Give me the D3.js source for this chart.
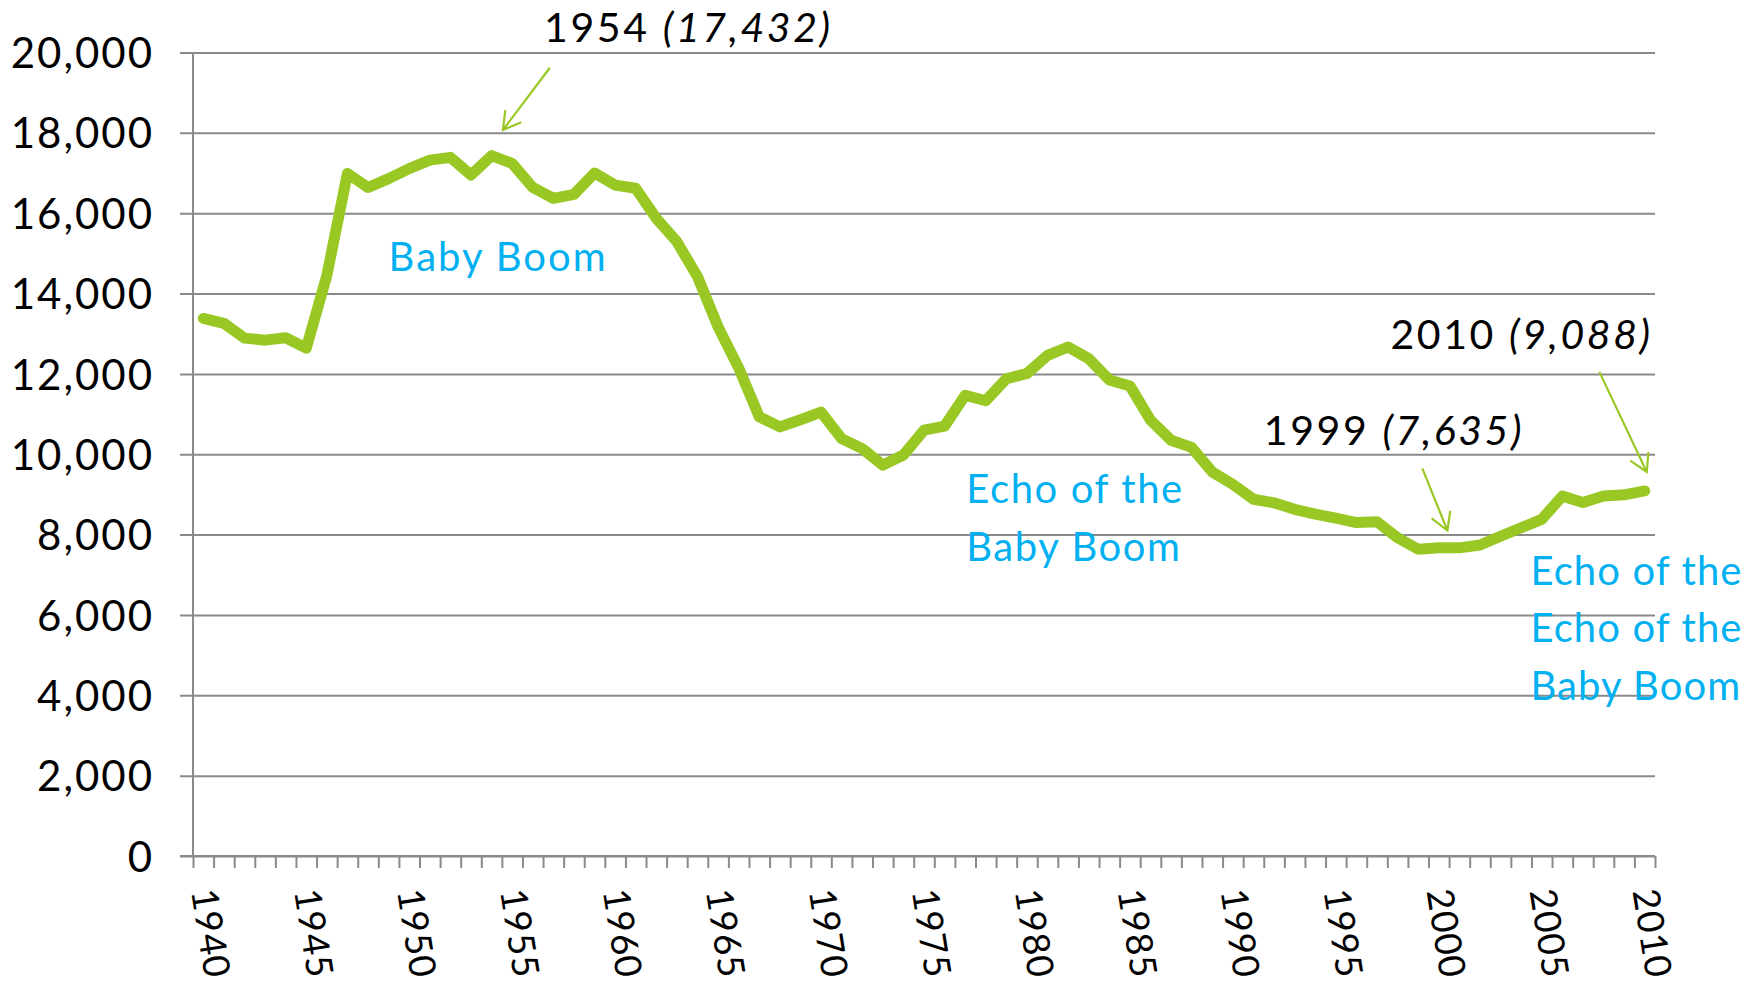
<!DOCTYPE html>
<html>
<head>
<meta charset="utf-8">
<script src="https://cdn.jsdelivr.net/npm/d3@7"></script>
<style>
  html, body { margin: 0; padding: 0; background: #fff; }
  svg { display: block; font-family: Lato, "Open Sans", sans-serif; }
</style>
</head>
<body>
<div id="container"></div>
<script>
/* DATA */
const years = d3.range(1940, 2011);
const births = [
  13380, 13260, 12890, 12840, 12900, 12640, 14450, 16990, 16640, 16860,
  17110, 17320, 17390, 16950, 17432, 17240, 16640, 16370, 16470, 17000,
  16700, 16620, 15870, 15290, 14420, 13170, 12150, 10930, 10680, 10860,
  11050, 10390, 10140, 9730, 9980, 10600, 10700, 11470, 11330, 11880,
  12010, 12460, 12670, 12380, 11850, 11700, 10850, 10350, 10170, 9560,
  9250, 8880, 8790, 8630, 8510, 8410, 8300, 8320, 7920, 7635,
  7670, 7670, 7740, 7960, 8170, 8380, 8960, 8800, 8960, 8990,
  9088
];
const yTicks = [0, 2000, 4000, 6000, 8000, 10000, 12000, 14000, 16000, 18000, 20000];
const labelYears = [1940, 1945, 1950, 1955, 1960, 1965, 1970, 1975, 1980, 1985, 1990, 1995, 2000, 2005, 2010];

// callouts: label text, italic part, anchor (year, value), arrow from -> to
const calloutText = ["1954 ", "1999 ", "2010 "];
const calloutItalic = ["(17,432)", "(7,635)", "(9,088)"];
const calloutAt = [[1956.55, 20270], [1991.5, 10240], [1997.65, 12630]];
const arrowFrom = [[1956.83, 19620], [1999.2, 9650], [2007.8, 12050]];
const arrowTo = [[1954.55, 18070], [2000.42, 8100], [2010.1, 9560]];

// era labels (blue)
const eraLines = [["Baby Boom"], ["Echo of the", "Baby Boom"], ["Echo of the", "Echo of the", "Baby Boom"]];
const eraAt = [[1949.0, 14570], [1977.05, 8775], [2004.45, 6755]];
const eraSpacing = [2, 1.6, 1.1];

/* CONSTANTS */
const width = 1750, height = 982;
const plotLeft = 193, plotRight = 1655, plotTop = 52.5, plotBottom = 856;
const green = "#99c824", blue = "#00b0f0", grid = "#8a8a8a";

const svg = d3.select("#container").append("svg")
  .attr("width", width)
  .attr("height", height);

// x: one band per year, points at band centres
const x = d3.scaleLinear()
  .domain([1939.5, 2010.5])
  .range([plotLeft, plotRight]);

const y = d3.scaleLinear()
  .domain([0, 20000])
  .range([plotBottom, plotTop]);

// gridlines + y labels
const yAxis = d3.axisLeft(y)
  .tickValues(yTicks)
  .tickSize(-(plotRight - 180))
  .tickPadding(26)
  .tickFormat(d3.format(","));

const gy = svg.append("g")
  .attr("transform", "translate(180,0)")
  .call(yAxis);
gy.select(".domain").remove();
gy.selectAll(".tick line").attr("stroke", grid).attr("stroke-width", 2);
gy.selectAll(".tick text")
  .attr("fill", "#000")
  .attr("font-size", 42)
  .attr("letter-spacing", 2)
  .attr("dy", "0.36em")
  .attr("font-family", "Lato, sans-serif");

// vertical axis line
svg.append("line")
  .attr("x1", plotLeft).attr("x2", plotLeft)
  .attr("y1", plotTop).attr("y2", plotBottom)
  .attr("stroke", grid).attr("stroke-width", 2);

// x axis: tick marks between the years
const bounds = d3.range(1939.5, 2011, 1);
const gx = svg.append("g")
  .attr("transform", `translate(0,${plotBottom})`)
  .call(d3.axisBottom(x).tickValues(bounds).tickSize(12).tickSizeOuter(0).tickFormat(""));
gx.select(".domain").remove();
gx.selectAll(".tick line").attr("stroke", grid).attr("stroke-width", 2);
svg.append("line")
  .attr("x1", 180).attr("x2", plotRight)
  .attr("y1", plotBottom).attr("y2", plotBottom)
  .attr("stroke", grid).attr("stroke-width", 2);

// year labels, tilted
const gl = svg.append("g")
  .attr("transform", `translate(0,${plotBottom})`)
  .call(d3.axisBottom(x).tickValues(labelYears).tickSize(0).tickFormat(d3.format("d")));
gl.select(".domain").remove();
gl.selectAll(".tick text")
  .attr("x", 0).attr("y", 0).attr("dy", "0.35em")
  .attr("text-anchor", "start")
  .attr("transform", "translate(0,33) rotate(81)")
  .attr("fill", "#000")
  .attr("font-size", 37)
  .attr("letter-spacing", 1)
  .attr("font-family", "Lato, sans-serif");

// the series
const line = d3.line()
  .x((d, i) => x(years[i]))
  .y(d => y(d));

svg.append("path")
  .datum(births)
  .attr("fill", "none")
  .attr("stroke", green)
  .attr("stroke-width", 11)
  .attr("stroke-linejoin", "round")
  .attr("stroke-linecap", "round")
  .attr("d", line);

// era labels
eraLines.forEach((lines, i) => {
  const t = svg.append("text")
    .attr("x", x(eraAt[i][0]))
    .attr("y", y(eraAt[i][1]))
    .attr("fill", blue)
    .attr("font-size", 40)
    .attr("letter-spacing", eraSpacing[i]);
  lines.forEach((s, j) => {
    t.append("tspan")
      .attr("x", x(eraAt[i][0]))
      .attr("dy", j === 0 ? 0 : 57.5)
      .text(s);
  });
});

// callouts with arrows
calloutText.forEach((s, i) => {
  const t = svg.append("text")
    .attr("x", x(calloutAt[i][0]))
    .attr("y", y(calloutAt[i][1]))
    .attr("fill", "#000")
    .attr("font-size", 41)
    .attr("letter-spacing", 2.6);
  t.append("tspan").text(s);
  t.append("tspan").attr("font-style", "italic").text(calloutItalic[i]);

  const x0 = x(arrowFrom[i][0]), y0 = y(arrowFrom[i][1]);
  const x1 = x(arrowTo[i][0]), y1 = y(arrowTo[i][1]);
  const a = Math.atan2(y0 - y1, x0 - x1);
  const len = 20, spread = Math.PI / 6;
  const w1 = [x1 + len * Math.cos(a - spread), y1 + len * Math.sin(a - spread)];
  const w2 = [x1 + len * Math.cos(a + spread), y1 + len * Math.sin(a + spread)];
  svg.append("path")
    .attr("d", `M${x0},${y0}L${x1},${y1}M${w1[0]},${w1[1]}L${x1},${y1}L${w2[0]},${w2[1]}`)
    .attr("fill", "none")
    .attr("stroke", green)
    .attr("stroke-width", 2.2);
});
</script>
</body>
</html>
